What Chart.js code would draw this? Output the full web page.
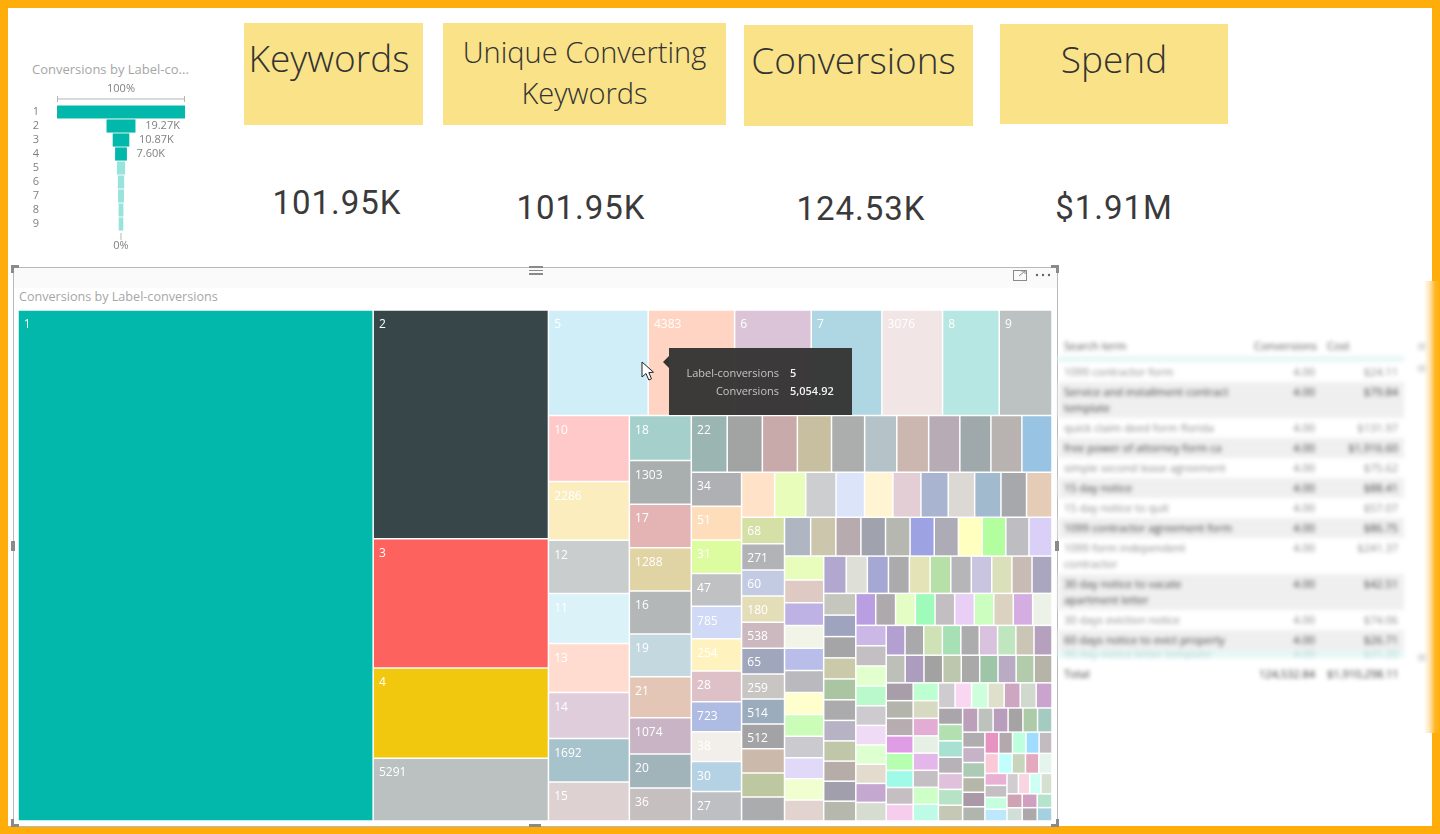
<!DOCTYPE html>
<html>
<head>
<meta charset="utf-8">
<title>Conversions by Label-conversions</title>
<script src="https://cdn.jsdelivr.net/npm/chart.js@4/dist/chart.umd.js"></script>
<style>
html, body { margin: 0; padding: 0; background: #fff; }
#page { position: relative; width: 1440px; height: 834px; overflow: hidden; font-family: 'Open Sans', sans-serif; }
#frame { position: absolute; left: 0; top: 0; right: 0; bottom: 0; border: 8px solid #FFAD0B; }
#fade { position: absolute; left: 1424px; top: 281px; width: 16px; height: 452px; background: linear-gradient(to right, #fff 0, #FFE3AE 6px, #FFB726 11px, #FFAD0B 16px); }
.card { position: absolute; background: #F9E287; color: #333; text-align: center; font-weight: 300; box-sizing: border-box; }
.kpi { position: absolute; transform: translate(-50%, -50%); font-family: Roboto, sans-serif; font-size: 33px; letter-spacing: 1px; color: #3a3a3a; white-space: nowrap; }
.title { position: absolute; color: #a6a6a6; white-space: nowrap; }
canvas { position: absolute; }
#visual { position: absolute; left: 13px; top: 267px; width: 1043px; height: 558px; border: 1px solid #b9b9b9; }
#visualHead { position: absolute; left: 0; top: 0; right: 0; height: 20px; background: #fafafa; }
.handle { position: absolute; background: #8a8a8a; }
#tip { position: absolute; display: none; width: 183px; height: 67px; background: rgba(52, 51, 51, 0.96); color: #c4c4c4; font-size: 11px; }
#tip:before { content: ''; position: absolute; left: -6px; top: 8px; border-top: 6px solid transparent; border-bottom: 6px solid transparent; border-right: 6px solid #343333; }
#tip div { position: absolute; left: 0; width: 110px; text-align: right; white-space: nowrap; }
#tip b { position: absolute; left: 121px; color: #f2f2f2; font-weight: 600; white-space: nowrap; }
#blurred { position: absolute; left: 1058px; top: 336px; width: 346px; filter: blur(2.2px); font-size: 11px; line-height: 16px; color: #888; }
#blurred table { width: 346px; border-collapse: collapse; table-layout: fixed; }
#blurred td, #blurred th { padding: 2px 6px; vertical-align: top; text-align: right; font-weight: 400; white-space: normal; }
#blurred td:first-child, #blurred th:first-child { text-align: left; padding-right: 12px; }
#blurred th:last-child { text-align: left; }
#blurred tr.head th { border-bottom: 6px solid #e6f7f5; color: #555; }
#blurred tr.even { background: #efefef; color: #444; }
#blurred tr.last td { background: #e6f7f5; padding: 0 6px; height: 8px; line-height: 8px; color: #b4d6d3; white-space: nowrap; }
#blurred tr.total td { color: #333; padding-top: 8px; white-space: nowrap; }
.stray { position: absolute; left: 360px; width: 8px; height: 7px; background: #ddd; }
</style>
</head>
<body>
<div id="page">
    <div id="frame"></div>
    <div id="fade"></div>

    <div class="title" style="left:32px;top:60px;font-size:13px;">Conversions by Label-co...</div>
    <canvas id="funnelChart" width="240" height="180" style="left:0;top:75px;"></canvas>

    <div class="card" style="left:244px;top:23px;width:179px;height:102px;font-size:37px;line-height:70px;padding-right:9px;">Keywords</div>
    <div class="card" style="left:443px;top:23px;width:283px;height:102px;font-size:29px;line-height:41px;padding-top:8px;">Unique Converting<br>Keywords</div>
    <div class="card" style="left:744px;top:25px;width:229px;height:101px;font-size:37px;line-height:70px;padding-right:10px;">Conversions</div>
    <div class="card" style="left:1000px;top:24px;width:228px;height:100px;font-size:37px;line-height:69px;">Spend</div>

    <div class="kpi" style="left:337px;top:202px;">101.95K</div>
    <div class="kpi" style="left:581px;top:207px;">101.95K</div>
    <div class="kpi" style="left:861px;top:208px;">124.53K</div>
    <div class="kpi" style="left:1114px;top:207px;">$1.91M</div>

    <div id="visual"><div id="visualHead"></div></div>
    <div class="handle" style="left:11px;top:265px;width:8px;height:3px;"></div>
    <div class="handle" style="left:11px;top:265px;width:3px;height:8px;"></div>
    <div class="handle" style="left:1051px;top:265px;width:8px;height:3px;"></div>
    <div class="handle" style="left:1056px;top:265px;width:3px;height:8px;"></div>
    <div class="handle" style="left:1051px;top:824px;width:8px;height:3px;"></div>
    <div class="handle" style="left:1056px;top:819px;width:3px;height:8px;"></div>
    <div class="handle" style="left:11px;top:824px;width:8px;height:3px;"></div>
    <div class="handle" style="left:11px;top:819px;width:3px;height:8px;"></div>
    <div class="handle" style="left:11px;top:541px;width:4px;height:10px;"></div>
    <div class="handle" style="left:1055px;top:541px;width:4px;height:10px;"></div>
    <div class="handle" style="left:529px;top:824px;width:12px;height:3px;"></div>
    <div class="handle" style="left:529px;top:266px;width:14px;height:2px;"></div>
    <div class="handle" style="left:529px;top:270px;width:14px;height:1px;"></div>
    <div class="handle" style="left:529px;top:273px;width:14px;height:2px;"></div>
    <svg style="position:absolute;left:1012px;top:268px;" width="44" height="14">
        <rect x="1.5" y="2.5" width="13" height="10" fill="none" stroke="#8a8a8a"></rect>
        <path d="M7 8 L13 3 M9 3 H13 V6" fill="none" stroke="#8a8a8a"></path>
        <circle cx="25" cy="7" r="1.2" fill="#666"></circle>
        <circle cx="31" cy="7" r="1.2" fill="#666"></circle>
        <circle cx="37" cy="7" r="1.2" fill="#666"></circle>
    </svg>
    <div class="title" style="left:19px;top:288px;font-size:12.6px;">Conversions by Label-conversions</div>
    <canvas id="treemapChart" width="1034" height="511" style="left:18px;top:310px;"></canvas>

    <div id="tip"></div>
    <svg style="position:absolute;left:640px;top:360px;" width="18" height="24">
        <path d="M2 2 V17 L6 13.5 L8.8 20 L11.5 18.8 L8.8 12.6 L13.5 12.2 Z" fill="#fff" stroke="#222" stroke-width="1"></path>
    </svg>

    <div id="blurred"></div>
</div>

<script>
// Funnel
const funnelCategories = ['1', '2', '3', '4', '5', '6', '7', '8', '9'];
const funnelValues = [87200, 19270, 10870, 7600, 5054.92, 3883, 3581, 2875, 2673];
const funnelLabels = ['', '19.27K', '10.87K', '7.60K', '', '', '', '', ''];

// Treemap, largest first. Empty names are cells too small to show their label
const categories = [
    '1', '2', '3', '4', '5291',
    '5', '4383', '6', '7', '3076', '8', '9',
    '10', '2286', '12', '11', '13', '14', '1692', '15',
    '18', '1303', '17', '1288', '16', '19', '21', '1074', '20', '36',
    '22', '', '', '', '', '', '', '', '', '', '',
    '34', '51', '31', '47', '785', '254', '28', '723', '38', '30', '27',
    '', '', '', '', '', '', '', '', '', '', '',
    '68', '271', '60', '180', '538', '65', '259', '514', '512'
];
const conversions = [
    87200, 19270, 10870, 7600, 5291,
    5054.92, 4383, 3883, 3581, 3076, 2875, 2673,
    2568, 2286, 2062, 1945, 1906, 1790, 1692, 1517,
    1340, 1303, 1295, 1288, 1280, 1270, 1221, 1074, 1012, 985,
    980, 959, 955, 932, 904, 877, 870, 850, 848, 845, 822,
    820, 818, 806, 795, 785, 775, 745, 723, 722, 720, 715,
    714, 671, 655, 615, 612, 605, 590, 570, 568, 552, 550,
    545, 542, 540, 540, 538, 530, 518, 514, 512, 500, 496, 494,
    488, 470, 468, 460, 458, 452, 450, 446, 440, 432, 430,
    448, 432, 428, 425, 420, 415, 412, 408, 405, 398, 398, 396,
    404, 378, 378, 375, 372, 370, 368, 366, 362, 360, 358,
    335, 332, 328, 325, 322, 318, 316, 312, 310, 308, 306,
    306, 305, 304, 302, 302, 301, 300, 299, 298, 297,
    298, 295, 292, 289, 287, 285, 282, 280, 277, 272,
    270, 268, 267, 265, 264, 263, 262, 260, 258,
    252, 250, 249, 247, 245, 243, 241, 239, 238,
    231, 229, 227, 225, 223, 221, 219, 215,
    216, 214, 212, 210, 208, 206, 205, 204,
    201, 199, 197, 196, 194, 192, 191,
    192, 191, 190, 188, 186, 184, 184,
    178, 176, 174, 172, 170, 168,
    163, 162, 160, 158, 156, 152,
    142, 140, 138, 134, 132,
    131, 130, 129, 128, 127,
    127, 127, 126, 125,
    112, 111, 110, 109,
    102, 97, 100, 96, 98, 95
];

// Colours, same order as the cells
const cellColors = [
    '#01B8AA', '#374649', '#FD625E', '#F2C80F', '#BBC1C1',
    '#CFEEF8', '#FFD4C2', '#DCC4D8', '#AFD6E3', '#F2E5E5', '#B7E7E2', '#BCC1C1',
    '#FEC9C8', '#FCEDBF', '#C9CDCD', '#DCF2F9', '#FFDCCF', '#E0CDDC', '#A6C3CC', '#DDD2D1',
    '#A4CFCA', '#A9AEAE', '#E4B3B3', '#E0D3A4', '#B3B7B7', '#C4D8DF', '#E4C6B6', '#C9B4C6', '#A0B4B9', '#C5C0BF',
    '#9AB5B2', '#A2A4A4', '#C9AAAA', '#C8BFA0', '#ACAEAE', '#B5C3C8', '#CBB7AF', '#B7ABB6', '#9FA8AA', '#B8B3B1', '#99C3E3',
    '#AEB0B4', '#FEDDBB', '#DDFB9F', '#BFC1C3', '#D0D9F5', '#FEF3BE', '#DDC1C6', '#AEBBE2', '#F2EEE9', '#B5D2E5', '#BDBFC2',
    '#FFE2C8', '#E8FDB9', '#CDCED0', '#DBE4F9', '#FFF5D2', '#E2CED4', '#A9B5D0', '#DCD8D4', '#A1BACE', '#A6A8AC', '#E4CCB6',
    '#D4E0A5', '#B2B3B7', '#C3CBE3', '#E3DDB8', '#CBB9BF', '#A0A7BD', '#C8C5C2', '#9BADBD', '#A3A3A5', '#CBBAAB', '#BEC8A0', '#ABACAE',
    '#AFB6C2', '#CCC6AC', '#B8ABAF', '#A0A2AE', '#B7B7B1', '#9DA2E3', '#ADABB5', '#FFFFBF', '#B3FFA0', '#BDBDC2', '#DACFF7',
    '#E8FDBB', '#DEC9C3', '#BEB1E4', '#F3F4E8', '#B8BEE9', '#BABABE', '#FEFFCC', '#CCFDB8', '#CBCBCF', '#E0DAF8', '#F0FED0', '#E2D3CF',
    '#B1A7CF', '#DEDFD6', '#A5A8D3', '#ABABAE', '#E4E3B8', '#B6E0A8', '#B6B6B9', '#C9C5E1', '#D9E0BA', '#C8BAB5', '#AAA6C0',
    '#C5C6BE', '#9EA4BE', '#A5A5A7', '#CACAAB', '#ABC5A2', '#ABABAD', '#B7B3C4', '#C0C6A8', '#B7ADA8', '#A19FAC', '#B6B7AD',
    '#B99EE1', '#AEA9AD', '#E3FDC4', '#9EFBB9', '#C2BEC2', '#E9CFF6', '#CCFFBF', '#DBD2BF', '#D4ADE1', '#ECF2E8',
    '#CBB8E6', '#C3BFC2', '#E2FFCE', '#BAF9CB', '#CDCBCF', '#F0DBF6', '#DEFFCF', '#E2DBCE', '#C5A8CF', '#D6DDD0',
    '#B4A0D0', '#A9A8AA', '#CFE2B5', '#A8E0B6', '#ACABAD', '#D9C2DE', '#BFE6BE', '#CBC5B6', '#B5A0BE',
    '#BDC0B9', '#AC9DBF', '#A2A2A2', '#BDC7AE', '#A9A9A9', '#9FC5A9', '#BAABC5', '#B1CBAB', '#B6B4A8',
    '#A89EAA', '#B3B5AC', '#B7ACB0', '#DE9DE4', '#B6FFB0', '#A0FAE8', '#C5BEC2', '#F6CDEC',
    '#BEFFD2', '#D6DAC0', '#E2ACD4', '#E6F0E4', '#E4B7EA', '#C4BFC3', '#CDFFC6', '#BDFBE6',
    '#CFCCCF', '#F9D6F1', '#CDFFDC', '#DEE0CB', '#CDA6C2', '#D1D9CF', '#CBA3CF',
    '#A9A5AA', '#B3E0B0', '#A8E0D2', '#B7B2B7', '#E0C1DC', '#B7E2C5', '#C5C8B5',
    '#BC9FB8', '#BDC3BC', '#B89EBC', '#A5A3A3', '#ADCBA9', '#A4CBC0',
    '#AFADAF', '#C7B3C7', '#ADCBB4', '#B6B7A8', '#AA9AA8', '#B0B5AD',
    '#E693C1', '#B3A9AC', '#BEFFE0', '#A0DCFD', '#C2BCC0',
    '#FAC9D8', '#C1FFFD', '#C7D5BD', '#E5A9BD', '#E6F4EE',
    '#E8B0D3', '#C4BFC3', '#C5FFE0', '#BDE8FB',
    '#D0CCCF', '#F9D4E1', '#CEFFF4', '#D6E0D0',
    '#CFA3B4', '#D0DFD8', '#CFA0C0', '#ACA8AC', '#B5E3CC', '#A5D0E0'
];

// The blurred table on the right, mostly guessed because it is unreadable on purpose
const tableHeader = ['Search term', 'Conversions', 'Cost'];
const tableRows = [
    ['1099 contractor form', '4.00', '$24.11'],
    ['Service and installment contract template', '4.00', '$79.84'],
    ['quick claim deed form florida', '4.00', '$131.97'],
    ['free power of attorney form ca', '4.00', '$1,916.60'],
    ['simple second lease agreement', '4.00', '$75.62'],
    ['15 day notice', '4.00', '$88.41'],
    ['15 day notice to quit', '4.00', '$57.07'],
    ['1099 contractor agreement form', '4.00', '$86.75'],
    ['1099 form independent contractor', '4.00', '$241.37'],
    ['30 day notice to vacate apartment letter', '4.00', '$42.51'],
    ['30 days eviction notice', '4.00', '$74.06'],
    ['60 days notice to evict property', '4.00', '$26.71']
];
const tableCutRow = ['90 day notice letter template', '4.00', '$31.20'];
const tableTotal = ['Total', '124,532.84', '$1,910,298.11'];

Chart.defaults.font.family = "'Open Sans', sans-serif";
Chart.defaults.animation = false;

// Same row logic as a golden ratio squarified treemap, cells keep their order
function squarify(values, width, height) {
    const ratio = (1 + Math.sqrt(5)) / 2;
    const rects = [];
    let x0 = 0, y0 = 0, x1 = width, y1 = height;
    let left = values.reduce(function (a, b) { return a + b; }, 0);
    let i0 = 0;
    while (i0 < values.length) {
        const dx = x1 - x0, dy = y1 - y0;
        const alpha = Math.max(dy / dx, dx / dy) / (left * ratio);
        let i1 = i0 + 1;
        let sum = values[i0], min = sum, max = sum;
        let beta = sum * sum * alpha;
        let best = Math.max(max / beta, beta / min);
        for (; i1 < values.length; i1++) {
            const v = values[i1];
            const nextMin = Math.min(min, v), nextMax = Math.max(max, v);
            beta = (sum + v) * (sum + v) * alpha;
            const next = Math.max(nextMax / beta, beta / nextMin);
            if (next > best) break;
            best = next; sum += v; min = nextMin; max = nextMax;
        }
        if (dx < dy) {
            // row across the top
            const h = dy * sum / left;
            let x = x0;
            for (let i = i0; i < i1; i++) {
                const w = dx * values[i] / sum;
                rects.push({ x0: x, x1: x + w, y0: y0, y1: y0 + h });
                x += w;
            }
            y0 += h;
        } else {
            // column on the left
            const w = dx * sum / left;
            let y = y0;
            for (let i = i0; i < i1; i++) {
                const h = dy * values[i] / sum;
                rects.push({ x0: x0, x1: x0 + w, y0: y, y1: y + h });
                y += h;
            }
            x0 += w;
        }
        left -= sum;
        i0 = i1;
    }
    return rects;
}

// Chart.js has no treemap, so a small controller lays out bar elements through the scales
class TreemapController extends Chart.DatasetController {
    update(mode) {
        const meta = this._cachedMeta;
        const xScale = meta.xScale, yScale = meta.yScale;
        const rects = squarify(this.getDataset().data, xScale.width, yScale.height);
        const gap = this.getDataset().cellGap / 2;
        meta.data.forEach((bar, i) => {
            const r = rects[i];
            const left = xScale.getPixelForValue(r.x0 / xScale.width) + gap;
            const right = xScale.getPixelForValue(r.x1 / xScale.width) - gap;
            const top = yScale.getPixelForValue(r.y0 / yScale.height) + gap;
            const bottom = yScale.getPixelForValue(r.y1 / yScale.height) - gap;
            this.updateElement(bar, i, {
                horizontal: false,
                x: (left + right) / 2,
                y: top,
                base: bottom,
                width: right - left,
                height: bottom - top,
                inflateAmount: 0,
                borderSkipped: false,
                options: this.resolveDataElementOptions(i, mode)
            }, mode);
        });
    }

    getLabelAndValue(index) {
        return {
            label: this.chart.data.labels[index],
            value: this.getDataset().data[index].toLocaleString('en-US', { minimumFractionDigits: 2 })
        };
    }

    draw() {
        super.draw();
        const ctx = this.chart.ctx;
        const labels = this.chart.data.labels;
        ctx.save();
        ctx.fillStyle = '#fff';
        ctx.font = "12px 'Open Sans', sans-serif";
        ctx.textBaseline = 'middle';
        this._cachedMeta.data.forEach(function (bar, i) {
            if (labels[i]) {
                ctx.fillText(labels[i], bar.x - bar.width / 2 + 5, bar.y + 14);
            }
        });
        ctx.restore();
    }
}
TreemapController.id = 'treemap';
TreemapController.defaults = { dataElementType: 'bar', datasetElementType: false };
TreemapController.overrides = { scales: { x: { type: 'linear', display: false }, y: { type: 'linear', display: false } } };
Chart.register(TreemapController);

Chart.Tooltip.positioners.cursor = function (items, eventPosition) {
    return eventPosition;
};

function showTip(context) {
    const tooltip = context.tooltip;
    const tip = document.getElementById('tip');
    const canvas = context.chart.canvas;
    const point = tooltip.dataPoints[0];
    tip.style.display = 'block';
    tip.style.left = (canvas.offsetLeft + tooltip.caretX + 27) + 'px';
    tip.style.top = (canvas.offsetTop + tooltip.caretY - 14) + 'px';
    tip.innerHTML = '<div style="top:17px">Label-conversions</div><b style="top:17px">' + point.label + '</b>' +
        '<div style="top:35px">Conversions</div><b style="top:35px">' + point.formattedValue + '</b>';
}

let treemapChart = new Chart(document.getElementById('treemapChart'), {
    type: 'treemap',
    data: {
        labels: categories,
        datasets: [{
            label: 'Conversions',
            data: conversions,
            backgroundColor: cellColors,
            cellGap: 1.5
        }]
    },
    options: {
        responsive: false,
        events: [],
        layout: { padding: 0 },
        scales: {
            x: { min: 0, max: 1 },
            y: { min: 0, max: 1, reverse: true }
        },
        plugins: {
            legend: { display: false },
            tooltip: { enabled: false, external: showTip, position: 'cursor' }
        }
    }
});

// The reference caught the tooltip while hovering cell 5
treemapChart.tooltip.setActiveElements([{ datasetIndex: 0, index: categories.indexOf('5') }], { x: 624, y: 52 });

// Range bar, 100% and 0% marks and the value labels of the funnel
const funnelDecor = {
    id: 'funnelDecor',
    afterDraw: function (chart) {
        const ctx = chart.ctx;
        const x = chart.scales.x, y = chart.scales.y;
        const left = x.getPixelForValue(x.min), right = x.getPixelForValue(x.max), mid = x.getPixelForValue(0);
        const top = chart.chartArea.top, bottom = chart.chartArea.bottom;
        ctx.save();
        ctx.strokeStyle = '#b5b5b5';
        ctx.beginPath();
        ctx.moveTo(left, top - 6); ctx.lineTo(right, top - 6);
        ctx.moveTo(left + 0.5, top - 9); ctx.lineTo(left + 0.5, top - 3);
        ctx.moveTo(right - 0.5, top - 9); ctx.lineTo(right - 0.5, top - 3);
        ctx.moveTo(mid, bottom + 2); ctx.lineTo(mid, bottom + 9);
        ctx.stroke();
        ctx.fillStyle = '#808080';
        ctx.font = "11px 'Open Sans', sans-serif";
        ctx.textAlign = 'center';
        ctx.textBaseline = 'middle';
        ctx.fillText('100%', mid, top - 16);
        ctx.fillText('0%', mid, bottom + 15);
        ctx.textAlign = 'left';
        funnelLabels.forEach(function (label, i) {
            if (label) {
                ctx.fillText(label, x.getPixelForValue(funnelValues[i] / 2) + 10, y.getPixelForValue(i));
            }
        });
        ctx.restore();
    }
};

let funnelChart = new Chart(document.getElementById('funnelChart'), {
    type: 'bar',
    data: {
        labels: funnelCategories,
        datasets: [{
            data: funnelValues.map(function (v) { return [-v / 2, v / 2]; }),
            backgroundColor: ['#01B8AA', '#01B8AA', '#01B8AA', '#01B8AA', '#99E3DD', '#99E3DD', '#99E3DD', '#99E3DD', '#99E3DD'],
            barThickness: 12.5
        }]
    },
    options: {
        indexAxis: 'y',
        responsive: false,
        events: [],
        layout: { autoPadding: false, padding: { top: 30, bottom: 24, right: 55, left: 0 } },
        scales: {
            x: { display: false, min: -funnelValues[0] / 2, max: funnelValues[0] / 2 },
            y: {
                afterFit: function (scale) { scale.width = 57; },
                grid: { display: false },
                border: { display: false },
                ticks: { color: '#808080', font: { size: 11 }, padding: 10, autoSkip: false }
            }
        },
        plugins: { legend: { display: false }, tooltip: { enabled: false } }
    },
    plugins: [funnelDecor]
});

// Blurred table
function tableCells(tag, row) {
    return row.map(function (c) { return '<' + tag + '>' + c + '</' + tag + '>'; }).join('');
}
let tableHtml = '<table><colgroup><col style="width:190px"><col style="width:73px"><col style="width:83px"></colgroup>';
tableHtml += '<tr class="head">' + tableCells('th', tableHeader) + '</tr>';
tableRows.forEach(function (row, i) {
    tableHtml += '<tr class="' + (i % 2 ? 'even' : '') + '">' + tableCells('td', row) + '</tr>';
});
tableHtml += '<tr class="last">' + tableCells('td', tableCutRow) + '</tr>';
tableHtml += '<tr class="total">' + tableCells('td', tableTotal) + '</tr></table>';
tableHtml += '<div class="stray" style="top:7px"></div><div class="stray" style="top:29px"></div><div class="stray" style="top:318px"></div>';
document.getElementById('blurred').innerHTML = tableHtml;
</script>
</body>
</html>
